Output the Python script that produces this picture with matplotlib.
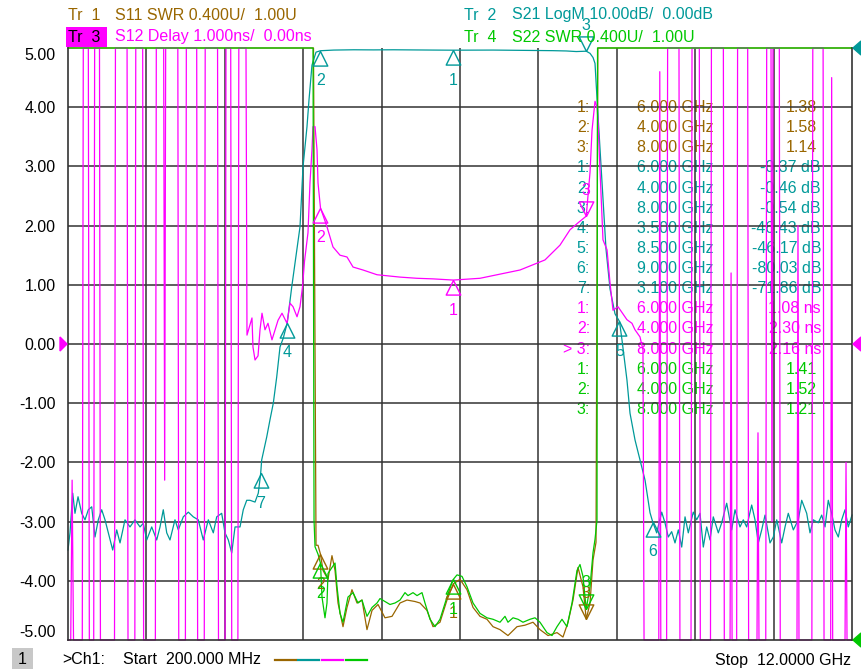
import numpy as np
import matplotlib
matplotlib.use('Agg')
import matplotlib.pyplot as plt
from matplotlib.patches import Polygon, Rectangle
from matplotlib.lines import Line2D
from matplotlib.transforms import Affine2D

# sweep (GHz)
f_start = 0.2
f_stop = 12.0

# Tr 1: S11 SWR (U), 0.4 U/div, ref 1.00 U at bottom
s11_freq = [0.200, 3.895, 3.933, 3.963, 4.000, 4.038, 4.113, 4.173, 4.219, 4.264,
            4.339, 4.399, 4.474, 4.550, 4.625, 4.700, 4.776, 4.866, 4.971, 5.077,
            5.197, 5.302, 5.423, 5.498, 5.603, 5.694, 5.799, 5.904, 6.000, 6.100,
            6.205, 6.296, 6.401, 6.506, 6.597, 6.702, 6.822, 6.958, 7.078, 7.199,
            7.304, 7.425, 7.560, 7.650, 7.726, 7.801, 7.876, 7.951, 8.000, 8.057,
            8.102, 8.147, 8.175, 12.000]
s11_swr = [20, 20, 1.64, 1.64, 1.58, 1.47, 1.41, 1.57, 1.47, 1.25,
           1.09, 1.22, 1.34, 1.25, 1.27, 1.07, 1.20, 1.24, 1.15, 1.16,
           1.25, 1.27, 1.26, 1.25, 1.20, 1.09, 1.12, 1.27, 1.38, 1.41,
           1.34, 1.22, 1.16, 1.14, 1.09, 1.07, 1.03, 1.09, 1.10, 1.12,
           1.07, 1.03, 1.05, 1.02, 1.12, 1.27, 1.49, 1.36, 1.14, 1.25,
           1.54, 1.66, 20, 20]

# Tr 2: S21 LogM (dB), 10 dB/div, ref 0 dB at top
s21_freq = [0.200, 0.230, 0.271, 0.305, 0.351, 0.406, 0.456, 0.506, 0.557, 0.606,
            0.656, 0.707, 0.757, 0.807, 0.873, 0.933, 0.983, 1.058, 1.133, 1.208,
            1.284, 1.333, 1.385, 1.460, 1.535, 1.585, 1.634, 1.686, 1.735, 1.810,
            1.860, 1.935, 2.011, 2.086, 2.161, 2.236, 2.312, 2.387, 2.438, 2.513,
            2.563, 2.613, 2.664, 2.714, 2.789, 2.838, 2.890, 2.939, 3.015, 3.064,
            3.100, 3.115, 3.191, 3.240, 3.290, 3.341, 3.391, 3.440, 3.500, 3.567,
            3.692, 3.737, 3.797, 3.827, 3.872, 3.933, 4.000, 4.200, 4.500, 4.800,
            5.100, 5.400, 5.700, 6.000, 6.300, 6.600, 6.900, 7.200, 7.500, 7.700,
            7.850, 8.000, 8.057, 8.102, 8.132, 8.162, 8.207, 8.252, 8.297, 8.358,
            8.433, 8.500, 8.538, 8.613, 8.659, 8.734, 8.809, 8.885, 8.960, 9.000,
            9.060, 9.136, 9.185, 9.235, 9.286, 9.336, 9.386, 9.437, 9.487, 9.536,
            9.611, 9.662, 9.712, 9.762, 9.813, 9.863, 9.912, 9.988, 10.039, 10.114,
            10.189, 10.239, 10.314, 10.364, 10.415, 10.490, 10.540, 10.590, 10.641, 10.691,
            10.766, 10.816, 10.867, 10.942, 10.992, 11.041, 11.117, 11.192, 11.243, 11.318,
            11.368, 11.418, 11.493, 11.544, 11.594, 11.643, 11.694, 11.744, 11.794, 11.845,
            11.895, 11.944, 12.000]
s21_db = [-84.8, -81.9, -75.2, -78.6, -75.8, -78.6, -79.7, -78.0, -77.5, -82.6,
          -79.7, -78.0, -79.7, -81.9, -84.8, -81.4, -83.6, -79.7, -80.9, -79.7,
          -80.9, -80.3, -83.1, -80.9, -83.1, -80.9, -78.0, -81.9, -83.1, -79.7,
          -81.4, -79.2, -78.4, -79.2, -79.7, -83.1, -79.7, -81.9, -79.2, -78.6,
          -81.9, -83.1, -85.3, -80.9, -80.9, -78.0, -76.4, -76.4, -76.7, -75.2,
          -71.86, -69.6, -65.7, -62.8, -60.0, -55.6, -50.5, -49.0, -46.43, -40.4,
          -30.2, -20.1, -13.3, -8.8, -2.9, -0.7, -0.46, -0.35, -0.30, -0.32,
          -0.30, -0.33, -0.35, -0.37, -0.36, -0.35, -0.38, -0.40, -0.45, -0.50,
          -0.60, -0.54, -0.9, -1.6, -2.6, -8.5, -17.0, -25.4, -33.9, -40.7,
          -44.9, -46.17, -49.3, -56.1, -61.7, -66.2, -69.6, -73.0, -78.5, -80.03,
          -81.9, -78.4, -80.2, -82.6, -81.7, -83.6, -81.4, -84.3, -79.2, -81.9,
          -78.4, -79.7, -78.6, -84.3, -80.9, -83.1, -79.2, -81.9, -80.2, -76.9,
          -81.4, -78.0, -80.9, -79.7, -80.9, -77.2, -79.7, -83.6, -81.4, -78.9,
          -83.6, -82.6, -79.7, -83.6, -80.9, -78.6, -81.4, -79.7, -76.4, -78.6,
          -81.9, -79.7, -80.2, -78.9, -80.9, -76.4, -78.6, -81.4, -82.6, -79.7,
          -78.0, -80.9, -78.9]

# Tr 3: S12 group delay (ns), 1 ns/div, ref 0 ns at centre
s12_freq = [0.200, 0.241, 0.262, 0.283, 0.415, 0.430, 0.506, 0.521, 0.587, 0.601,
            0.674, 0.688, 0.900, 0.914, 1.089, 1.103, 1.206, 1.220, 1.324, 1.338,
            1.515, 1.529, 1.640, 1.655, 1.670, 1.853, 1.867, 1.967, 1.981, 2.137,
            2.151, 2.251, 2.265, 2.451, 2.465, 2.564, 2.578, 2.649, 2.664, 2.757,
            2.771, 2.879, 2.894, 2.969, 2.984, 3.015, 3.060, 3.090, 3.120, 3.165,
            3.210, 3.270, 3.316, 3.361, 3.421, 3.496, 3.541, 3.587, 3.647, 3.692,
            3.730, 3.760, 3.812, 3.842, 3.872, 3.887, 3.918, 3.948, 3.963, 4.000,
            4.098, 4.188, 4.294, 4.399, 4.490, 4.640, 4.851, 5.197, 5.453, 5.694,
            6.000, 6.401, 7.003, 7.379, 7.605, 7.756, 7.880, 8.000, 8.057, 8.087,
            8.132, 8.162, 8.177, 8.207, 8.252, 8.313, 8.358, 8.403, 8.478, 8.613,
            8.688, 8.734, 8.809, 8.854, 8.870, 9.092, 9.107, 9.122, 9.210, 9.225,
            9.396, 9.410, 9.577, 9.592, 9.702, 9.717, 9.870, 9.884, 10.064, 10.078,
            10.165, 10.180, 10.195, 10.264, 10.278, 10.430, 10.444, 10.570, 10.585, 10.600,
            10.702, 10.716, 10.781, 10.796, 10.811, 10.906, 10.920, 11.172, 11.187, 11.202,
            11.396, 11.410, 11.565, 11.579, 11.679, 11.694, 11.709, 11.895, 11.910, 11.925,
            12.000]
s12_delay = [-9, -9, -2.3, -9, -9, 9, 9, -9, -9, 9,
             9, -9, -9, 9, 9, -9, -9, 9, 9, -9,
             -9, 9, 9, -2.3, 9, 9, -9, -9, 9, 9,
             -9, -9, 9, 9, -9, -9, 9, 9, -9, -9,
             9, 9, 0.15, 0.44, -0.05, -0.27, -0.20, 0.24, 0.52, 0.24,
             0.35, 0.07, 0.24, 0.40, 0.52, 0.35, 0.69, 0.63, 0.46, 0.63,
             0.97, 1.40, 1.88, 2.72, 3.28, 3.67, 3.67, 3.28, 2.72, 2.30,
             1.98, 1.64, 1.50, 1.47, 1.30, 1.25, 1.17, 1.13, 1.11, 1.10,
             1.08, 1.11, 1.25, 1.42, 1.67, 1.93, 2.05, 2.16, 2.90, 3.61,
             4.10, 4.00, 3.78, 2.94, 1.76, 1.59, 1.03, 0.57, 0.63, 0.41,
             0.35, 0.24, 0.12, -0.10, -9, -9, 4.6, -9, -9, 9,
             9, -9, -9, 9, 9, -9, -9, 9, 9, -9,
             -9, 1.2, -9, -9, 9, 9, -9, -9, -1.5, -9,
             -9, 9, 9, -3.0, 9, 9, -9, -9, 2.0, -9,
             -9, 9, 9, -9, -9, 4.5, -9, -9, -2.0, -9,
             -9]

# Tr 4: S22 SWR (U), 0.4 U/div, ref 1.00 U at bottom
s22_freq = [0.200, 3.888, 3.903, 3.918, 3.963, 4.000, 4.023, 4.068, 4.098, 4.113,
            4.173, 4.219, 4.249, 4.294, 4.339, 4.414, 4.490, 4.565, 4.625, 4.700,
            4.776, 4.851, 4.896, 4.971, 5.046, 5.122, 5.197, 5.272, 5.317, 5.393,
            5.453, 5.528, 5.573, 5.649, 5.724, 5.799, 5.904, 5.980, 6.000, 6.055,
            6.130, 6.205, 6.296, 6.401, 6.506, 6.597, 6.702, 6.777, 6.822, 6.898,
            6.973, 7.048, 7.154, 7.229, 7.304, 7.409, 7.485, 7.560, 7.635, 7.710,
            7.786, 7.861, 7.906, 7.951, 8.000, 8.057, 8.102, 8.132, 8.162, 8.170,
            12.000]
s22_swr = [20, 20, 1.81, 1.63, 1.58, 1.52, 1.29, 1.15, 1.25, 1.45,
           1.49, 1.52, 1.36, 1.18, 1.12, 1.29, 1.32, 1.25, 1.27, 1.16,
           1.22, 1.25, 1.28, 1.26, 1.24, 1.25, 1.27, 1.32, 1.30, 1.32,
           1.30, 1.32, 1.25, 1.14, 1.09, 1.14, 1.29, 1.39, 1.41, 1.44,
           1.43, 1.36, 1.25, 1.18, 1.15, 1.14, 1.12, 1.16, 1.12, 1.15,
           1.14, 1.12, 1.14, 1.15, 1.12, 1.05, 1.03, 1.09, 1.14, 1.09,
           1.25, 1.47, 1.51, 1.43, 1.21, 1.36, 1.59, 1.68, 1.81, 20,
           20]

# marker readouts
s11_mk_freq = [6.0, 4.0, 8.0]
s11_mk_val = [1.38, 1.58, 1.14]
s21_mk_freq = [6.0, 4.0, 8.0, 3.5, 8.5, 9.0, 3.1]
s21_mk_val = [-0.37, -0.46, -0.54, -46.43, -46.17, -80.03, -71.86]
s12_mk_freq = [6.0, 4.0, 8.0]
s12_mk_val = [1.08, 2.30, 2.16]
s22_mk_freq = [6.0, 4.0, 8.0]
s22_mk_val = [1.41, 1.52, 1.21]

y_ticks = [5, 4, 3, 2, 1, 0, -1, -2, -3, -4, -5]

BROWN = '#996600'
TEAL = '#009999'
MAGENTA = '#ff00ff'
GREEN = '#00c800'
GRID = '#333333'
FS = 11.5

plt.rcParams['font.family'] = ['Liberation Sans', 'DejaVu Sans']

W, H = 861, 671
fig = plt.figure(figsize=(W / 100, H / 100), dpi=100)
ax = fig.add_axes([68 / W, 31 / H, 784 / W, 592 / H])
ax.set_xlim(f_start, f_stop)
ax.set_ylim(-5, 5)

# pixel coordinates (origin top-left) -> figure
pxt = Affine2D().scale(1 / W, -1 / H).translate(0, 1) + fig.transFigure


def swr_div(v):
    return np.clip(-5 + (np.asarray(v, dtype=float) - 1.0) / 0.4, -5, 5)


def db_div(v):
    return np.clip(5 + np.asarray(v, dtype=float) / 10.0, -5, 5)


def ns_div(v):
    return np.clip(np.asarray(v, dtype=float) / 1.0, -5, 5)


# graticule
for i in range(1, 10):
    ax.axvline(f_start + i * (f_stop - f_start) / 10, color=GRID, lw=1.1, zorder=1)
for v in range(-4, 5):
    ax.axhline(v, color=GRID, lw=1.1, zorder=1)
for side in ['left', 'bottom', 'right']:
    ax.spines[side].set_color(GRID)
    ax.spines[side].set_linewidth(1.2)
ax.spines['top'].set_visible(False)
ax.set_xticks([])
ax.set_yticks(y_ticks)
ax.set_yticklabels([f'{t:.2f}' for t in y_ticks])
ax.tick_params(axis='y', length=0, pad=9, labelsize=FS)
labels = ax.get_yticklabels()
labels[0].set_verticalalignment('top')
labels[-1].set_verticalalignment('bottom')

# traces
lw = 0.9
ax.plot(s11_freq, swr_div(s11_swr), color=BROWN, lw=lw, zorder=2, clip_on=False)
ax.plot(s21_freq, db_div(s21_db), color=TEAL, lw=lw, zorder=2, clip_on=False)
ax.plot(s12_freq, ns_div(s12_delay), color=MAGENTA, lw=lw, zorder=2, clip_on=False)
ax.plot(s22_freq, swr_div(s22_swr), color=GREEN, lw=lw, zorder=2, clip_on=False)

# markers
tri_up = [(0, 0), (-0.5, -1), (0.5, -1), (0, 0)]
tri_dn = [(0, 0), (-0.5, 1), (0.5, 1), (0, 0)]


def draw_markers(freqs, vals, conv, color):
    for i, (f, v) in enumerate(zip(freqs, vals)):
        y = float(conv(v))
        inv = (i == 2)  # marker 3 is the active one
        ax.plot([f], [y], ls='none', marker=tri_dn if inv else tri_up, ms=21,
                mfc='none', mec=color, mew=1.0, clip_on=False, zorder=4)
        ax.annotate(str(i + 1), (f, y), xytext=(0, 26 if inv else -30),
                    textcoords='offset pixels', ha='center', va='center',
                    color=color, fontsize=FS, annotation_clip=False, zorder=4)


draw_markers(s11_mk_freq, s11_mk_val, swr_div, BROWN)
draw_markers(s21_mk_freq, s21_mk_val, db_div, TEAL)
draw_markers(s12_mk_freq, s12_mk_val, ns_div, MAGENTA)
draw_markers(s22_mk_freq, s22_mk_val, swr_div, GREEN)

# marker table
rows = []
for i, (f, v) in enumerate(zip(s11_mk_freq, s11_mk_val)):
    rows.append((f'{i + 1}:', f, f'{v:.2f}', BROWN, 817))
for i, (f, v) in enumerate(zip(s21_mk_freq, s21_mk_val)):
    rows.append((f'{i + 1}:', f, f'{v:.2f} dB', TEAL, 821))
for i, (f, v) in enumerate(zip(s12_mk_freq, s12_mk_val)):
    rows.append((('> ' if i == 2 else '') + f'{i + 1}:', f, f'{v:.2f} ns', MAGENTA, 821))
for i, (f, v) in enumerate(zip(s22_mk_freq, s22_mk_val)):
    rows.append((f'{i + 1}:', f, f'{v:.2f}', GREEN, 817))
for k, (lab, f, val, col, xr) in enumerate(rows):
    y = 107.5 + 20.13 * k
    ax.text(590, y, lab, transform=pxt, ha='right', va='center', color=col, fontsize=FS, zorder=0.5)
    ax.text(637, y, f'{f:.3f} GHz', transform=pxt, ha='left', va='center', color=col, fontsize=FS, zorder=0.5)
    ax.text(xr, y, val, transform=pxt, ha='right', va='center', color=col, fontsize=FS, zorder=0.5)

# header
fig.text(68, 15, 'Tr  1', transform=pxt, color=BROWN, fontsize=FS, va='center')
fig.text(115, 15, 'S11 SWR 0.400U/  1.00U', transform=pxt, color=BROWN, fontsize=FS, va='center')
fig.add_artist(Rectangle((66, 27), 41, 20, transform=pxt, facecolor=MAGENTA, edgecolor='none'))
fig.text(68, 37, 'Tr  3', transform=pxt, color='black', fontsize=FS, va='center')
fig.text(115, 37, 'S12 Delay 1.000ns/  0.00ns', transform=pxt, color=MAGENTA, fontsize=FS, va='center')
fig.text(464, 15, 'Tr  2', transform=pxt, color=TEAL, fontsize=FS, va='center')
fig.text(512, 15, 'S21 LogM 10.00dB/  0.00dB', transform=pxt, color=TEAL, fontsize=FS, va='center')
fig.text(464, 37, 'Tr  4', transform=pxt, color=GREEN, fontsize=FS, va='center')
fig.text(512, 37, 'S22 SWR 0.400U/  1.00U', transform=pxt, color=GREEN, fontsize=FS, va='center')

# reference position arrows
fig.add_artist(Polygon([(60, 337), (67, 344), (60, 351)], closed=True, transform=pxt, color=MAGENTA))
fig.add_artist(Polygon([(861, 337), (853, 344), (861, 351)], closed=True, transform=pxt, color=MAGENTA))
fig.add_artist(Polygon([(861, 41), (853, 48), (861, 55)], closed=True, transform=pxt, color=TEAL))
fig.add_artist(Polygon([(861, 633), (853, 640), (861, 647)], closed=True, transform=pxt, color=GREEN))

# status line
fig.add_artist(Rectangle((12, 648), 21, 21, transform=pxt, facecolor='#c8c8c8', edgecolor='none'))
fig.text(22.5, 659, '1', transform=pxt, color='black', fontsize=FS, ha='center', va='center')
fig.text(62, 660, '>Ch1:', transform=pxt, color='black', fontsize=FS, va='center')
fig.text(123, 660, f'Start  {f_start * 1000:.3f} MHz', transform=pxt, color='black', fontsize=FS, va='center')
for x0, col in zip([275, 298, 322, 346], [BROWN, TEAL, MAGENTA, GREEN]):
    fig.add_artist(Line2D([x0, x0 + 21], [660, 660], transform=pxt, color=col, lw=1.6))
fig.text(851, 660, f'Stop  {f_stop:.4f} GHz', transform=pxt, color='black', fontsize=FS, ha='right', va='center')

fig.savefig('out.png', dpi=100, facecolor='white')
